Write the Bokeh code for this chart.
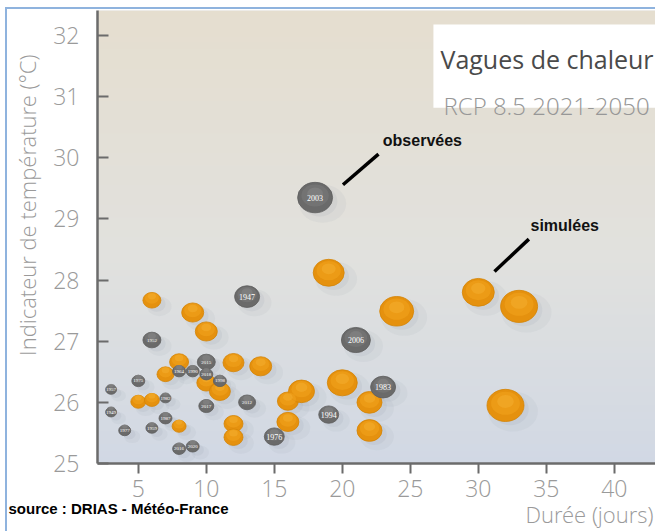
from bokeh.plotting import figure
from bokeh.models import Range1d, BoxAnnotation, Label, ColumnDataSource, FixedTicker, Title
from bokeh.transform import dodge
from bokeh.core.properties import value
from bokeh.embed import file_html
from bokeh.resources import INLINE

# ---- data -------------------------------------------------------------
# simulated heat waves (orange) : duration (days), temperature indicator, bubble size
sim_duree = [6, 9, 10, 8, 7, 12, 14, 10, 11, 5, 6, 8, 12, 12, 16, 17, 16, 20, 22, 22, 19, 24, 30, 33, 32]
sim_temp = [27.67, 27.47, 27.16, 26.66, 26.46, 26.65, 26.59, 26.32, 26.18, 26.01, 26.04, 25.61, 25.65,
            25.43, 26.02, 26.18, 25.68, 26.32, 26.0, 25.54, 28.12, 27.49, 27.8, 27.57, 25.95]
sim_size = [18, 22, 22, 19, 17, 21, 22, 19, 21, 15, 15, 14, 19, 19, 21, 26, 22, 30, 25, 25, 31, 34, 32, 37, 37]

# observed heat waves (grey)
obs_year = ["2003", "1947", "2006", "1983", "1976", "1994", "2012", "1952", "2015", "1990", "1964",
            "2018", "1998", "1975", "1957", "1949", "1982", "2017", "1987", "1959", "1977", "2016", "2020"]
obs_duree = [18, 13, 21, 23, 15, 19, 13, 6, 10, 9, 8, 10, 11, 5, 3, 3, 7, 10, 7, 6, 4, 8, 9]
obs_temp = [29.35, 27.73, 27.02, 26.25, 25.44, 25.8, 26.0, 27.02, 26.66, 26.51, 26.51, 26.46, 26.35,
            26.35, 26.21, 25.84, 26.07, 25.94, 25.74, 25.58, 25.54, 25.24, 25.28]
obs_size = [35, 25, 29, 25, 20, 20, 17, 18, 18, 13, 13, 13, 13, 13, 11, 11, 11, 15, 13, 12, 12, 13, 13]

x_ticks = [5, 10, 15, 20, 25, 30, 35, 40]
y_ticks = [25, 26, 27, 28, 29, 30, 31, 32]

title_main = "Vagues de chaleur"
title_sub = "RCP 8.5 2021-2050"
x_label = "Durée (jours)"
y_label = "Indicateur de température (°C)"
source_text = "source : DRIAS - Météo-France"

ann_text = ["observées", "simulées"]
ann_x = [22.98, 33.84]
ann_y = [30.28, 28.90]
arrow_x0 = [22.66, 33.72]
arrow_y0 = [30.06, 28.67]
arrow_x1 = [20.05, 31.19]
arrow_y1 = [29.56, 28.14]

# ---- figure -----------------------------------------------------------
X0, X1 = 2.0, 43.03
Y0, Y1 = 25.0, 32.41
STRETCH = 1.15
BLUE = "#8fb3de"

p = figure(width=655, height=531, output_backend="svg", toolbar_location=None,
           x_range=Range1d(X0, X1), y_range=Range1d(Y0, Y1),
           min_border_left=97, min_border_right=0, min_border_top=10, min_border_bottom=68,
           styles={"background": f"linear-gradient({BLUE},{BLUE}) 5px 7px / 2px 100% no-repeat, "
                                 f"linear-gradient({BLUE},{BLUE}) 5px 7px / 100% 2px no-repeat, white"})
p.title = None
p.grid.visible = False
p.outline_line_color = None
p.background_fill_color = "#dfe0df"
p.border_fill_alpha = 0


def lerp(c1, c2, t):
    return tuple(int(round(a + (b - a) * t)) for a, b in zip(c1, c2))


# gradient background of the plot area
top_c = (229, 222, 207)
mid_c = (225, 225, 222)
bot_c = (209, 216, 228)
n = 70
for i in range(n):
    b = Y0 + (Y1 - Y0) * i / n
    t = Y0 + (Y1 - Y0) * (i + 1.3) / n
    f = (i + 0.5) / n
    if f < 0.45:
        c = lerp(bot_c, mid_c, f / 0.45)
    else:
        c = lerp(mid_c, top_c, (f - 0.45) / 0.55)
    p.add_layout(BoxAnnotation(bottom=b, top=min(t, Y1), fill_color="#%02x%02x%02x" % c,
                               fill_alpha=1, line_color=None, level="underlay"))

# white title box
p.add_layout(BoxAnnotation(left=26.7, bottom=30.82, top=32.18, fill_color="white",
                           fill_alpha=1, line_color=None, level="underlay"))

# ---- axes -------------------------------------------------------------
label_font = "'Open Sans Light', 'Open Sans'"
GREY_TXT = "#9a9a9a"
for ax in (p.xaxis[0], p.yaxis[0]):
    ax.axis_line_color = "#6b6b6b"
    ax.axis_line_width = 2.5
    ax.major_tick_line_color = "#6b6b6b"
    ax.major_tick_line_width = 2
    ax.minor_tick_line_color = None
    ax.major_label_text_font = label_font
    ax.major_label_text_font_size = "23px"
    ax.major_label_text_color = GREY_TXT
    ax.axis_label = None

p.xaxis.ticker = FixedTicker(ticks=x_ticks)
p.yaxis.ticker = FixedTicker(ticks=y_ticks)
p.xaxis.major_tick_out = 10
p.xaxis.major_tick_in = 0
p.xaxis.major_label_standoff = 6
p.yaxis.major_tick_out = 0
p.yaxis.major_tick_in = 11
p.yaxis.major_label_standoff = 18

# y axis title (left side, anchored near the top of the frame)
p.add_layout(Title(text=y_label, align="right", offset=44, standoff=18,
                   text_font=label_font, text_font_size="22px", text_color=GREY_TXT,
                   text_font_style="normal"), "left")
# bottom texts: source (left) and x axis title (right)
p.add_layout(Title(text=source_text, align="left", offset=-89, standoff=-3, vertical_align="bottom",
                   text_font="Liberation Sans", text_font_style="bold", text_font_size="15px",
                   text_color="black"), "below")
p.add_layout(Title(text=x_label, align="right", offset=2, standoff=-33, vertical_align="top",
                   text_font=label_font, text_font_size="22px", text_color=GREY_TXT,
                   text_font_style="normal"), "below")

# ---- bubbles ----------------------------------------------------------
def bubble_source(x, y, s, **extra):
    d = dict(x=x, y=y,
             w=s, h=[v / STRETCH for v in s],
             w2=[v * 0.78 for v in s], h2=[v * 0.72 / STRETCH for v in s],
             w3=[v * 0.45 for v in s], h3=[v * 0.4 / STRETCH for v in s],
             ws=[v * 1.35 for v in s], hs=[v * 1.25 / STRETCH for v in s])
    d.update(extra)
    return ColumnDataSource(d)


sim = bubble_source(sim_duree, sim_temp, sim_size)
obs = bubble_source(obs_duree, obs_temp, obs_size, year=obs_year,
                    fs=["8px" if s >= 20 else "5px" for s in obs_size])

# soft shadows
for src in (sim, obs):
    p.ellipse(x=dodge("x", 0.55), y=dodge("y", -0.1), width="ws", height="hs",
              width_units="screen", height_units="screen", source=src,
              fill_color="#8d96a3", fill_alpha=0.09, line_color=None)
    p.ellipse(x=dodge("x", 0.35), y=dodge("y", -0.06), width="w", height="h",
              width_units="screen", height_units="screen", source=src,
              fill_color="#8d96a3", fill_alpha=0.11, line_color=None)


def sphere(src, base, edge, mid, light):
    p.ellipse(x="x", y="y", width="w", height="h", width_units="screen", height_units="screen",
              source=src, fill_color=base, line_color=edge, line_width=0.8)
    p.ellipse(x="x", y=dodge("y", 0.035), width="w2", height="h2", width_units="screen",
              height_units="screen", source=src, fill_color=mid, fill_alpha=0.6, line_color=None)
    p.ellipse(x="x", y=dodge("y", 0.065), width="w3", height="h3", width_units="screen",
              height_units="screen", source=src, fill_color=light, fill_alpha=0.4, line_color=None)


sphere(sim, "#e5910e", "#d48405", "#f0a21d", "#f7b436")
sphere(obs, "#6a6a6a", "#5e5e5e", "#7a7a7a", "#8e8e8e")
p.text(x="x", y="y", text="year", source=obs, text_color="white", text_font_size="fs",
       text_font=value("Liberation Serif"), text_align="center", text_baseline="middle")

# ---- annotations ------------------------------------------------------
p.segment(x0=arrow_x0, y0=arrow_y0, x1=arrow_x1, y1=arrow_y1, line_color="black", line_width=3.5)
p.text(x=ann_x, y=ann_y, text=ann_text, text_color="#111111", text_font=value("Liberation Sans"),
       text_font_style="bold", text_font_size="16px", text_baseline="middle", text_align="left")

p.add_layout(Label(x=27.22, y=31.61, text=title_main, text_font="Open Sans",
                   text_font_size="25px", text_color="#4a4a4a", text_baseline="alphabetic"))
p.add_layout(Label(x=27.44, y=30.86, text=title_sub, text_font=label_font,
                   text_font_size="24px", text_color="#979797", text_baseline="alphabetic"))

open("out.html", "w").write(file_html(p, INLINE))
